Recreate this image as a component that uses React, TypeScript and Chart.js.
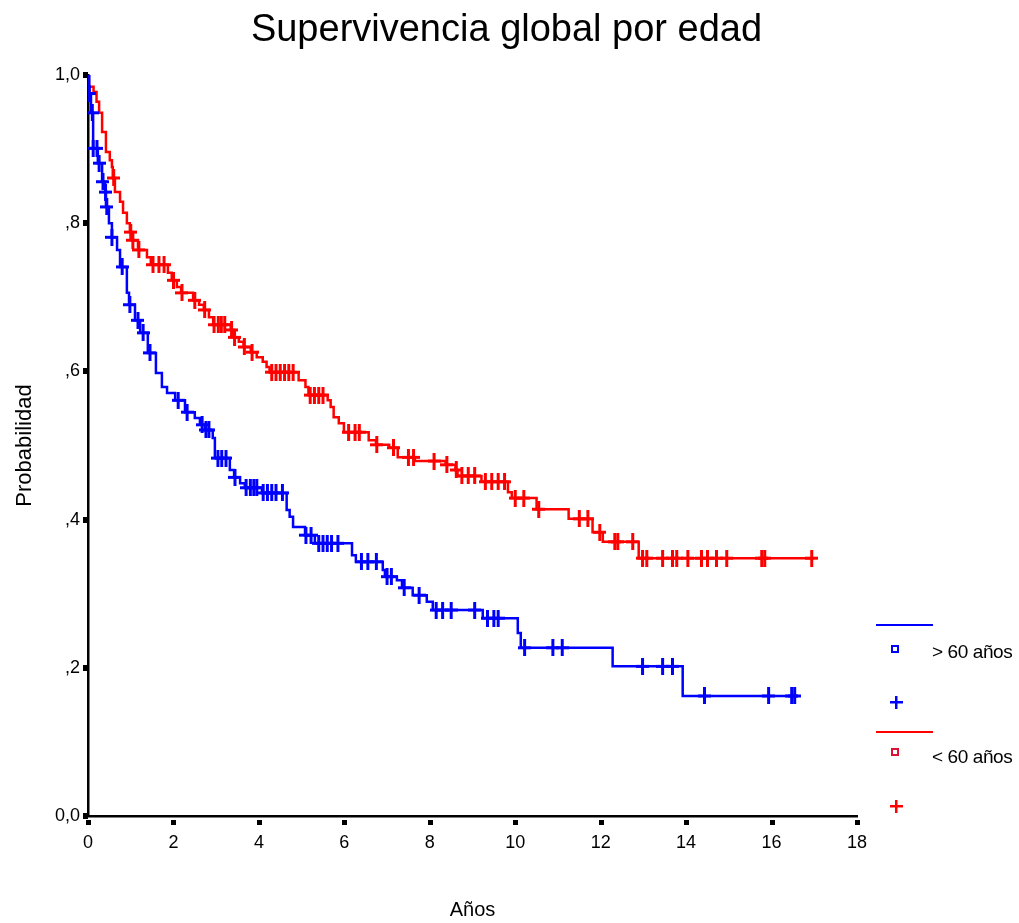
import React, { useEffect, useRef } from "react";
import { Chart, registerables } from "chart.js";

Chart.register(...registerables);

// ---------- data ----------
const chartTitle = "Supervivencia global por edad";
const xTicks = [0, 2, 4, 6, 8, 10, 12, 14, 16, 18];
const yTickLabels: Record<number, string> = { 0: "0,0", 2: ",2", 4: ",4", 6: ",6", 8: ",8", 10: "1,0" };

// > 60 años : Kaplan-Meier steps (time in years, survival after step)
const over60Times = [0, 0.03, 0.07, 0.12, 0.23, 0.33, 0.40, 0.42, 0.49, 0.56, 0.68, 0.75, 0.91, 0.96, 1.10, 1.22, 1.40, 1.59, 1.73, 1.85, 2.04, 2.27, 2.50, 2.62, 2.74, 2.92, 2.97, 3.32, 3.42, 3.56, 3.67, 4.07, 4.65, 4.72, 4.80, 5.08, 5.31, 6.18, 6.27, 6.90, 6.95, 7.23, 7.35, 7.60, 7.93, 8.07, 9.24, 10.06, 10.13, 12.28, 13.92, 16.6];
const over60Surv = [1.0, 0.975, 0.949, 0.901, 0.881, 0.856, 0.842, 0.822, 0.800, 0.781, 0.764, 0.741, 0.706, 0.690, 0.669, 0.652, 0.625, 0.598, 0.579, 0.571, 0.561, 0.545, 0.537, 0.528, 0.521, 0.510, 0.483, 0.467, 0.457, 0.449, 0.443, 0.436, 0.413, 0.404, 0.390, 0.379, 0.368, 0.352, 0.343, 0.332, 0.323, 0.318, 0.308, 0.298, 0.289, 0.278, 0.267, 0.247, 0.227, 0.202, 0.162, 0.162];
const over60Censored = [0.03, 0.10, 0.12, 0.21, 0.26, 0.35, 0.41, 0.44, 0.56, 0.80, 0.98, 1.17, 1.29, 1.45, 2.11, 2.32, 2.67, 2.76, 2.83, 3.04, 3.13, 3.23, 3.44, 3.70, 3.80, 3.88, 3.95, 4.10, 4.20, 4.30, 4.40, 4.55, 5.10, 5.22, 5.40, 5.50, 5.60, 5.70, 5.85, 6.40, 6.55, 6.75, 7.00, 7.10, 7.40, 7.75, 8.15, 8.30, 8.50, 9.05, 9.35, 9.50, 9.60, 10.22, 10.88, 11.10, 12.98, 13.45, 13.68, 14.43, 15.93, 16.47, 16.54];

// < 60 años
const under60Times = [0, 0.02, 0.13, 0.20, 0.26, 0.33, 0.42, 0.51, 0.56, 0.58, 0.63, 0.75, 0.82, 0.91, 0.98, 1.03, 1.17, 1.38, 1.47, 1.87, 1.96, 2.08, 2.18, 2.46, 2.60, 2.71, 2.83, 2.93, 3.34, 3.41, 3.53, 3.64, 3.81, 3.95, 4.09, 4.18, 4.25, 4.93, 5.09, 5.16, 5.61, 5.68, 5.75, 5.87, 5.99, 6.57, 6.74, 7.05, 7.25, 7.65, 8.37, 8.60, 8.65, 9.21, 9.83, 9.92, 10.50, 11.25, 11.81, 12.05, 12.89, 17.0];
const under60Surv = [1.0, 0.984, 0.977, 0.964, 0.949, 0.923, 0.896, 0.885, 0.876, 0.861, 0.842, 0.829, 0.814, 0.800, 0.788, 0.777, 0.764, 0.754, 0.744, 0.733, 0.723, 0.714, 0.706, 0.696, 0.690, 0.683, 0.673, 0.663, 0.656, 0.646, 0.640, 0.633, 0.626, 0.619, 0.613, 0.606, 0.599, 0.588, 0.579, 0.568, 0.561, 0.552, 0.538, 0.530, 0.518, 0.507, 0.501, 0.497, 0.484, 0.479, 0.474, 0.467, 0.459, 0.451, 0.437, 0.429, 0.414, 0.401, 0.383, 0.370, 0.348, 0.348];
const under60Censored = [0.60, 1.00, 1.05, 1.19, 1.52, 1.66, 1.78, 2.00, 2.20, 2.50, 2.73, 2.95, 3.05, 3.12, 3.20, 3.36, 3.43, 3.66, 3.84, 4.30, 4.40, 4.50, 4.60, 4.70, 4.80, 5.20, 5.30, 5.40, 5.50, 6.10, 6.25, 6.35, 6.76, 7.15, 7.50, 7.62, 8.10, 8.40, 8.62, 8.75, 8.90, 9.05, 9.30, 9.45, 9.60, 9.75, 10.00, 10.20, 10.55, 11.50, 11.70, 11.98, 12.33, 12.40, 12.75, 12.98, 13.08, 13.45, 13.68, 13.78, 14.04, 14.36, 14.50, 14.71, 14.95, 15.77, 15.84, 16.94];

const seriesLabels = ["> 60 años", "< 60 años"];
const BLUE = "#0000ff";
const RED = "#ff0000";
const FONT = "'Liberation Sans', Arial, sans-serif";

function stepPoints(times: number[], surv: number[]) {
  return times.map((t, i) => ({ x: t, y: surv[i] }));
}
function survAt(times: number[], surv: number[], t: number) {
  let s = surv[0];
  for (let i = 0; i < times.length; i++) {
    if (times[i] <= t) s = surv[i];
  }
  return s;
}
function censorPoints(cens: number[], times: number[], surv: number[]) {
  return cens.map((t) => ({ x: t, y: survAt(times, surv, t) }));
}
function makePlus(color: string) {
  const c = document.createElement("canvas");
  c.width = 13;
  c.height = 17;
  const g = c.getContext("2d")!;
  g.fillStyle = color;
  g.fillRect(5, 0, 3, 17);
  g.fillRect(0, 7, 13, 3);
  return c;
}

const decorPlugin = {
  id: "decor",
  afterDraw(chart: any) {
    const ctx = chart.ctx;
    const { left, bottom } = chart.chartArea;
    const xs = chart.scales.x;
    const ys = chart.scales.y;
    ctx.save();
    // title (centred on the whole picture)
    ctx.fillStyle = "#000";
    ctx.font = `38px ${FONT}`;
    ctx.textAlign = "center";
    ctx.textBaseline = "middle";
    ctx.fillText(chartTitle, chart.width / 2 - 3, 31);
    // tick squares
    [0, 0.2, 0.4, 0.6, 0.8, 1.0].forEach((v) => {
      const py = ys.getPixelForValue(v);
      ctx.fillRect(left - 5, Math.round(py) - 3, 5, 6);
    });
    xTicks.forEach((v) => {
      const px = xs.getPixelForValue(v);
      ctx.fillRect(Math.round(px) - 2, bottom + 4, 5, 5);
    });
    // legend
    const entries = [
      { color: BLUE, sq: BLUE, lineY: 625, sqY: 649, textY: 653, plusY: 702, label: seriesLabels[0] },
      { color: RED, sq: "#dd1133", lineY: 732, sqY: 752, textY: 758, plusY: 806, label: seriesLabels[1] },
    ];
    entries.forEach((e) => {
      ctx.fillStyle = e.color;
      ctx.fillRect(876, e.lineY - 1, 57, 2);
      ctx.strokeStyle = e.sq;
      ctx.lineWidth = 2;
      ctx.strokeRect(892, e.sqY - 3, 6, 6);
      ctx.fillStyle = e.color;
      ctx.fillRect(895, e.plusY - 6, 2.5, 13);
      ctx.fillRect(890, e.plusY - 1, 13, 2.5);
      ctx.fillStyle = "#000";
      ctx.font = `19px ${FONT}`;
      ctx.textBaseline = "middle";
      ctx.textAlign = "left";
      try { (ctx as any).letterSpacing = "-0.4px"; } catch (err) {}
      ctx.fillText(e.label, 932, e.textY);
      try { (ctx as any).letterSpacing = "0px"; } catch (err) {}
    });
    ctx.restore();
  },
};

export default function App() {
  const ref = useRef<HTMLCanvasElement>(null);
  useEffect(() => {
    if (!ref.current) return;
    const plusBlue = makePlus(BLUE);
    const plusRed = makePlus(RED);
    const chart = new Chart(ref.current, {
      type: "scatter",
      data: {
        datasets: [
          {
            label: seriesLabels[0] + " censurado",
            data: censorPoints(over60Censored, over60Times, over60Surv),
            showLine: false,
            pointStyle: plusBlue as any,
            pointRadius: 7,
          },
          {
            label: seriesLabels[1] + " censurado",
            data: censorPoints(under60Censored, under60Times, under60Surv),
            showLine: false,
            pointStyle: plusRed as any,
            pointRadius: 7,
          },
          {
            label: seriesLabels[0],
            data: stepPoints(over60Times, over60Surv),
            showLine: true,
            stepped: "before",
            borderColor: BLUE,
            borderWidth: 2.5,
            pointRadius: 0,
            fill: false,
          },
          {
            label: seriesLabels[1],
            data: stepPoints(under60Times, under60Surv),
            showLine: true,
            stepped: "before",
            borderColor: RED,
            borderWidth: 2.5,
            pointRadius: 0,
            fill: false,
          },
        ],
      } as any,
      options: {
        responsive: false,
        animation: false,
        devicePixelRatio: 1,
        layout: { padding: { left: 0, right: 162, top: 75, bottom: 0 } },
        plugins: {
          legend: { display: false },
          tooltip: { enabled: false },
          title: { display: false },
        },
        scales: {
          x: {
            type: "linear",
            min: 0,
            max: 18,
            afterBuildTicks: (s: any) => {
              s.ticks = xTicks.map((v) => ({ value: v }));
            },
            ticks: {
              color: "#000",
              font: { size: 18, family: FONT },
              padding: 16,
              maxRotation: 0,
              autoSkip: false,
            },
            grid: { display: false, drawTicks: false },
            border: { display: true, color: "#000", width: 2.5 },
            title: {
              display: true,
              text: "Años",
              color: "#000",
              font: { size: 20, family: FONT },
              padding: { top: 0, bottom: 1 },
            },
            afterFit: (s: any) => {
              s.height = 107;
            },
          },
          y: {
            type: "linear",
            min: 0,
            max: 1,
            ticks: {
              stepSize: 0.2,
              color: "#000",
              font: { size: 18, family: FONT },
              padding: 8,
              callback: (v: any) => yTickLabels[Math.round(Number(v) * 10)] ?? "",
            },
            grid: { display: false, drawTicks: false },
            border: { display: true, color: "#000", width: 2.5 },
            title: {
              display: true,
              text: "Probabilidad",
              color: "#000",
              font: { size: 22, family: FONT },
              padding: { top: 12, bottom: 0 },
            },
            afterFit: (s: any) => {
              s.width = 88;
            },
          },
        },
      } as any,
      plugins: [decorPlugin],
    });
    return () => chart.destroy();
  }, []);
  return (
    <div style={{ position: "absolute", left: 0, top: 0, width: 1019, height: 923, background: "#fff" }}>
      <canvas ref={ref} width={1019} height={923} style={{ display: "block" }} />
    </div>
  );
}
